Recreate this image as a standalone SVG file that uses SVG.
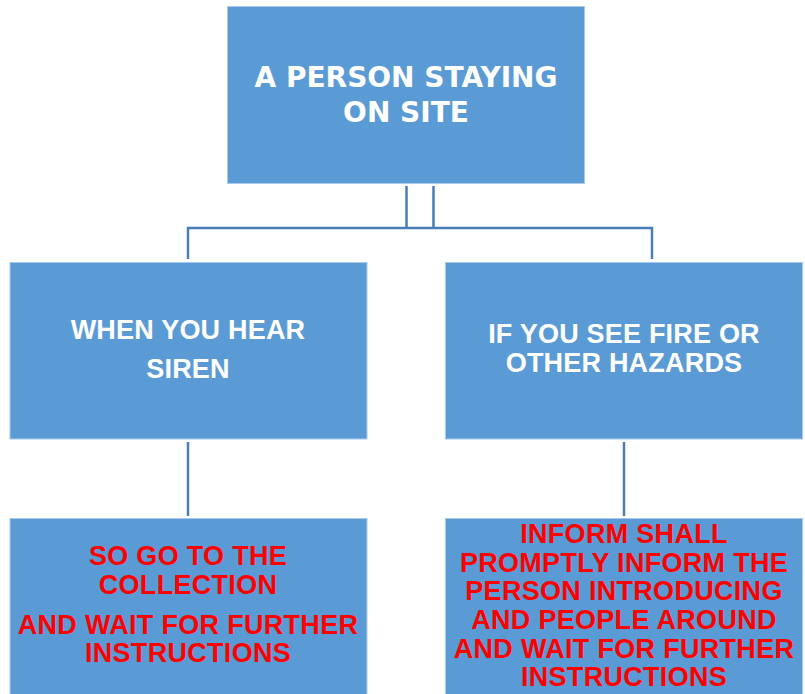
<svg xmlns="http://www.w3.org/2000/svg" width="805" height="694" viewBox="0 0 805 694">
<style>
.box{fill:#5b9bd5;stroke:#a9c8ea;stroke-width:1}
.w{fill:#ffffff;font-family:"Liberation Sans",Arial,sans-serif;font-weight:bold;font-size:27px;text-anchor:middle;letter-spacing:0.2px}
.t{font-family:"DejaVu Sans","Liberation Sans",sans-serif;font-size:28px;letter-spacing:0}
.r{fill:#ff0000;font-family:"Liberation Sans",Arial,sans-serif;font-weight:bold;font-size:27px;text-anchor:middle;letter-spacing:0.3px}
.c{fill:none;stroke:#4a7db5;stroke-width:2.5}
</style>
<rect width="805" height="694" fill="#ffffff"/>
<g id="connectors">
<path class="c" d="M406.5,186 V228 M433.5,186 V228"/>
<path class="c" d="M188,259 V228 H652 V259"/>
<path class="c" d="M188,442 V516"/>
<path class="c" d="M624,442 V516"/>
</g>
<g id="root">
<rect class="box" x="227.5" y="6.5" width="357" height="177"/>
<text class="w t" x="406" y="87">A PERSON STAYING</text>
<text class="w t" x="406" y="122">ON SITE</text>
</g>
<g id="siren">
<rect class="box" x="10" y="262.5" width="357" height="176.5"/>
<text class="w" x="188" y="339">WHEN YOU HEAR</text>
<text class="w" x="188" y="378">SIREN</text>
</g>
<g id="fire">
<rect class="box" x="445.5" y="262.5" width="357" height="176.5"/>
<text class="w" x="624" y="343">IF YOU SEE FIRE OR</text>
<text class="w" x="624" y="372">OTHER HAZARDS</text>
</g>
<g id="collection">
<rect class="box" x="10" y="518.5" width="357" height="180"/>
<text class="r" x="188" y="565">SO GO TO THE</text>
<text class="r" x="188" y="594">COLLECTION</text>
<text class="r" x="188" y="634">AND WAIT FOR FURTHER</text>
<text class="r" x="188" y="662">INSTRUCTIONS</text>
</g>
<g id="inform">
<rect class="box" x="445.5" y="518.5" width="357" height="180"/>
<text class="r" x="624" y="543">INFORM SHALL</text>
<text class="r" x="624" y="572">PROMPTLY INFORM THE</text>
<text class="r" x="624" y="600">PERSON INTRODUCING</text>
<text class="r" x="624" y="629">AND PEOPLE AROUND</text>
<text class="r" x="624" y="658">AND WAIT FOR FURTHER</text>
<text class="r" x="624" y="686">INSTRUCTIONS</text>
</g>
</svg>
